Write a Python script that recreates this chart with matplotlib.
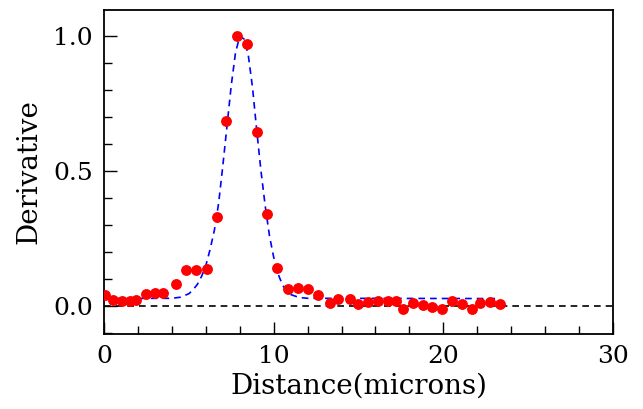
import numpy as np
from matplotlib import pyplot as plt
from matplotlib.ticker import MultipleLocator

# measured derivative points (distance in microns)
dist = [0.05, 0.53, 1.06, 1.53, 1.88, 2.47, 3.0, 3.48, 4.24, 4.83, 5.42, 6.07, 6.66,
        7.19, 7.84, 8.43, 9.02, 9.61, 10.2, 10.84, 11.43, 12.02, 12.61, 13.32, 13.79,
        14.5, 14.97, 15.56, 16.15, 16.74, 17.21, 17.62, 18.21, 18.8, 19.33, 19.92,
        20.51, 21.1, 21.69, 22.16, 22.75, 23.34]
deriv = [0.042, 0.02, 0.018, 0.018, 0.02, 0.045, 0.048, 0.048, 0.082, 0.133, 0.133,
         0.136, 0.33, 0.685, 1.0, 0.97, 0.643, 0.341, 0.142, 0.062, 0.066, 0.062,
         0.04, 0.012, 0.025, 0.025, 0.006, 0.015, 0.018, 0.018, 0.017, -0.01, 0.01,
         0.003, -0.004, -0.011, 0.018, 0.007, -0.011, 0.011, 0.015, 0.007]

# fitted curve
fit_x = [0.0, 4.0, 4.5, 5.0, 5.25, 5.5, 5.75, 6.0, 6.25, 6.5, 6.75, 7.0, 7.25, 7.5,
         7.75, 8.0, 8.25, 8.5, 8.75, 9.0, 9.25, 9.5, 9.75, 10.0, 10.25, 10.5, 10.75,
         11.0, 11.5, 12.0, 23.3]
fit_y = [0.027, 0.028, 0.032, 0.045, 0.06, 0.08, 0.11, 0.15, 0.21, 0.28, 0.38, 0.52,
         0.67, 0.82, 0.94, 1.0, 0.99, 0.93, 0.81, 0.65, 0.5, 0.37, 0.26, 0.18, 0.12,
         0.08, 0.055, 0.042, 0.031, 0.028, 0.027]

plt.rcParams['font.family'] = ['DejaVu Serif']

fig = plt.figure(figsize=(6.43, 4.09), dpi=100)
ax = fig.add_axes([0.162, 0.183, 0.791, 0.793])

ax.axhline(0, color='black', ls=(0, (4, 3)), lw=1.2, zorder=1)
ax.plot(fit_x, fit_y, color='blue', ls=(0, (4, 3)), lw=1.2, zorder=2)
ax.plot(dist, deriv, 'o', color='red', ms=6.8, mec='red', zorder=3)

ax.set_xlim(0, 30)
ax.set_ylim(-0.105, 1.098)
ax.xaxis.set_major_locator(MultipleLocator(10))
ax.xaxis.set_minor_locator(MultipleLocator(2))
ax.yaxis.set_major_locator(MultipleLocator(0.5))
ax.yaxis.set_minor_locator(MultipleLocator(0.1))
ax.tick_params(which='both', direction='in', labelsize=18, width=1)
ax.tick_params(which='major', length=9)
ax.tick_params(which='minor', length=6)
ax.tick_params(axis='x', pad=8)
ax.tick_params(axis='y', pad=8)
ax.yaxis.set_major_formatter(plt.FormatStrFormatter('%.1f'))
for s in ax.spines.values():
    s.set_linewidth(1.3)

ax.set_xlabel('Distance(microns)', fontsize=20, labelpad=3)
ax.set_ylabel('Derivative', fontsize=20, labelpad=8)

fig.savefig('out.png', dpi=100)
